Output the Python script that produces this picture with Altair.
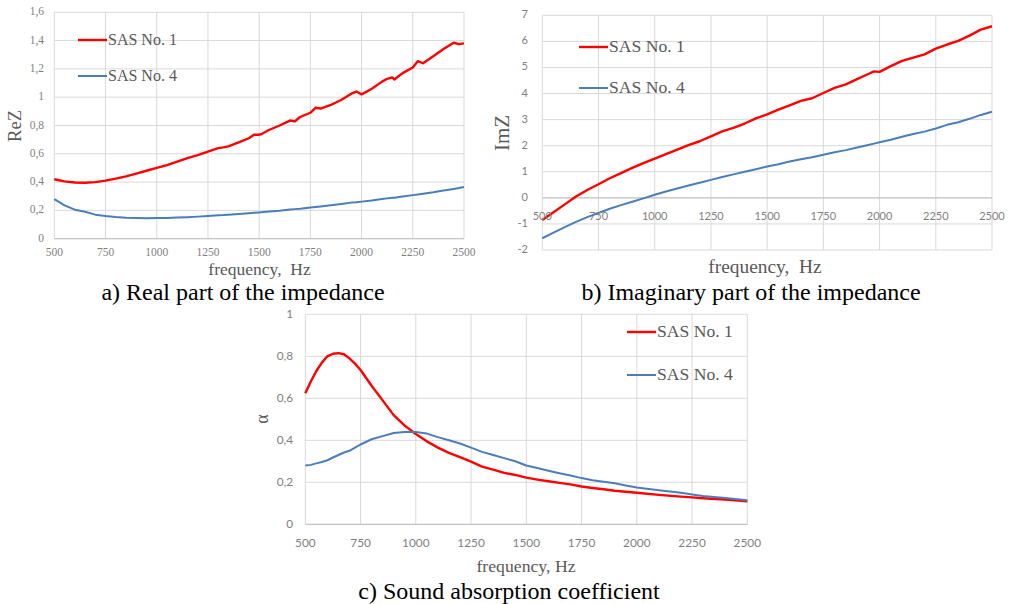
import altair as alt
import pandas as pd

# ---------------- data ----------------
freq_a = [500, 550, 600, 650, 700, 750, 800, 850, 900, 950, 1000, 1050, 1100, 1150, 1200,
          1250, 1300, 1325, 1350, 1400, 1450, 1475, 1500, 1510, 1550, 1600, 1650, 1675, 1700,
          1750, 1775, 1800, 1850, 1900, 1950, 1975, 2000, 2050, 2100, 2125, 2150, 2160, 2200,
          2250, 2275, 2300, 2350, 2400, 2450, 2475, 2500]
rez_1 = [0.42, 0.405, 0.397, 0.395, 0.40, 0.41, 0.425, 0.44, 0.46, 0.48, 0.50, 0.52, 0.545,
         0.57, 0.59, 0.615, 0.64, 0.645, 0.652, 0.68, 0.71, 0.735, 0.735, 0.738, 0.77, 0.80,
         0.835, 0.83, 0.86, 0.89, 0.925, 0.92, 0.945, 0.98, 1.025, 1.04, 1.02, 1.06, 1.11,
         1.13, 1.14, 1.125, 1.17, 1.21, 1.255, 1.24, 1.29, 1.34, 1.385, 1.375, 1.38]
rez_4 = [0.28, 0.235, 0.205, 0.19, 0.17, 0.16, 0.153, 0.148, 0.146, 0.145, 0.146, 0.147, 0.149,
         0.152, 0.156, 0.16, 0.165, 0.167, 0.17, 0.175, 0.18, 0.183, 0.186, 0.187, 0.192, 0.198,
         0.206, 0.209, 0.212, 0.22, 0.224, 0.228, 0.236, 0.245, 0.255, 0.258, 0.262, 0.27, 0.28,
         0.285, 0.29, 0.29, 0.298, 0.308, 0.313, 0.318, 0.328, 0.34, 0.352, 0.358, 0.365]

freq_b = [500, 550, 600, 650, 700, 750, 800, 850, 900, 950, 1000, 1050, 1100, 1150, 1200,
          1250, 1300, 1350, 1400, 1450, 1500, 1550, 1600, 1650, 1700, 1750, 1800, 1850, 1900,
          1950, 1975, 2000, 2050, 2100, 2150, 2200, 2250, 2300, 2350, 2400, 2450, 2500]
imz_1 = [-0.85, -0.55, -0.25, 0.05, 0.30, 0.52, 0.75, 0.95, 1.15, 1.33, 1.50, 1.68, 1.85, 2.02,
         2.17, 2.36, 2.55, 2.68, 2.85, 3.05, 3.20, 3.38, 3.55, 3.72, 3.82, 4.02, 4.22, 4.35,
         4.55, 4.75, 4.85, 4.83, 5.05, 5.25, 5.38, 5.50, 5.72, 5.88, 6.02, 6.22, 6.45, 6.58]
imz_4 = [-1.55, -1.33, -1.12, -0.92, -0.74, -0.58, -0.42, -0.28, -0.15, -0.02, 0.12, 0.24, 0.36,
         0.47, 0.58, 0.69, 0.80, 0.90, 1.00, 1.10, 1.20, 1.29, 1.39, 1.48, 1.56, 1.65, 1.75,
         1.83, 1.93, 2.03, 2.08, 2.13, 2.23, 2.34, 2.45, 2.54, 2.66, 2.80, 2.90, 3.03, 3.18, 3.30]

freq_c = [500, 525, 550, 575, 600, 625, 650, 675, 700, 725, 750, 800, 850, 900, 950, 1000,
          1050, 1100, 1150, 1200, 1250, 1300, 1350, 1400, 1450, 1500, 1550, 1600, 1650, 1700,
          1750, 1800, 1850, 1900, 1950, 2000, 2100, 2200, 2250, 2300, 2400, 2500]
alpha_1 = [0.624, 0.68, 0.73, 0.77, 0.80, 0.812, 0.815, 0.81, 0.79, 0.765, 0.735, 0.66, 0.59,
           0.52, 0.47, 0.43, 0.395, 0.365, 0.34, 0.32, 0.298, 0.275, 0.26, 0.245, 0.235, 0.222,
           0.213, 0.205, 0.197, 0.19, 0.18, 0.173, 0.167, 0.16, 0.155, 0.15, 0.14, 0.132, 0.128,
           0.124, 0.118, 0.11]
alpha_4 = [0.28, 0.283, 0.29, 0.297, 0.305, 0.318, 0.33, 0.342, 0.35, 0.365, 0.38, 0.405, 0.42,
           0.435, 0.44, 0.44, 0.432, 0.415, 0.40, 0.385, 0.365, 0.345, 0.33, 0.315, 0.30, 0.28,
           0.268, 0.255, 0.243, 0.232, 0.22, 0.21, 0.203, 0.195, 0.185, 0.175, 0.162, 0.15,
           0.142, 0.135, 0.125, 0.115]

series_names = ["SAS No. 1", "SAS No. 4"]
series_colors = ["#ff0000", "#4a7ebb"]
series_widths = [2.4, 2.0]

x_ticks = [500, 750, 1000, 1250, 1500, 1750, 2000, 2250, 2500]
ya_ticks = [0, 0.2, 0.4, 0.6, 0.8, 1.0, 1.2, 1.4, 1.6]
ya_labels = ["0", "0,2", "0,4", "0,6", "0,8", "1", "1,2", "1,4", "1,6"]
yb_ticks = [-2, -1, 0, 1, 2, 3, 4, 5, 6, 7]
yb_labels = ["-2", "-1", "0", "1", "2", "3", "4", "5", "6", "7"]
yc_ticks = [0, 0.2, 0.4, 0.6, 0.8, 1.0]
yc_labels = ["0", "0,2", "0,4", "0,6", "0,8", "1"]

GRID = "#d9d9d9"
TICK = "#7f7f7f"
TITLE = "#595959"
SERIF = "Liberation Serif"
SANS = "Lato"
WIDE = "\u00a0 "   # the double space of "frequency,  Hz"


def one(text):
    return pd.DataFrame({"t": [text]})


def panel(freq, s1, s4, xr, yr, ydom, yticks, ylabels, tick_font, tick_size, ylab_x,
          xlab_y, ytitle, ytitle_pos, ytitle_size, xtitle, xtitle_pos,
          xtitle_size, caption, caption_pos, leg_x, leg_y, leg_size):
    xs = alt.Scale(domain=[500, 2500], range=xr, nice=False, zero=False)
    ys = alt.Scale(domain=ydom, range=yr, nice=False, zero=False)
    lines = pd.DataFrame({
        "f": freq + freq,
        "v": s1 + s4,
        "s": [series_names[0]] * len(freq) + [series_names[1]] * len(freq),
    })
    gx = pd.DataFrame({"f": x_ticks})
    gy = pd.DataFrame({"v": yticks, "lab": ylabels})
    layers = []
    layers.append(alt.Chart(gx).mark_rule(color=GRID, strokeWidth=1).encode(
        x=alt.X("f:Q", scale=xs, axis=None), y=alt.value(yr[1]), y2=alt.value(yr[0])))
    layers.append(alt.Chart(gy).mark_rule(color=GRID, strokeWidth=1).encode(
        y=alt.Y("v:Q", scale=ys, axis=None), x=alt.value(xr[0]), x2=alt.value(xr[1])))
    # axis line at zero
    layers.append(alt.Chart(pd.DataFrame({"v": [0]})).mark_rule(color="#bfbfbf", strokeWidth=1).encode(
        y=alt.Y("v:Q", scale=ys, axis=None), x=alt.value(xr[0]), x2=alt.value(xr[1])))
    layers.append(alt.Chart(lines).mark_line(strokeJoin="round").encode(
        x=alt.X("f:Q", scale=xs, axis=None),
        y=alt.Y("v:Q", scale=ys, axis=None),
        color=alt.Color("s:N", scale=alt.Scale(domain=series_names, range=series_colors), legend=None),
        strokeWidth=alt.StrokeWidth("s:N", scale=alt.Scale(domain=series_names, range=series_widths), legend=None),
        detail="s:N",
        order=alt.Order("f:Q"),
    ))
    # tick labels
    layers.append(alt.Chart(gy).mark_text(font=tick_font, fontSize=tick_size, color=TICK,
                                          align="right", baseline="middle").encode(
        y=alt.Y("v:Q", scale=ys, axis=None), x=alt.value(ylab_x), text="lab:N"))
    layers.append(alt.Chart(gx).mark_text(font=tick_font, fontSize=tick_size, color=TICK,
                                          align="center", baseline="middle").encode(
        x=alt.X("f:Q", scale=xs, axis=None), y=alt.value(xlab_y), text="f:N"))
    # titles
    layers.append(alt.Chart(one(ytitle)).mark_text(font=SERIF, fontSize=ytitle_size, color=TITLE,
                                                   angle=270, align="center", baseline="middle").encode(
        x=alt.value(ytitle_pos[0]), y=alt.value(ytitle_pos[1]), text="t:N"))
    layers.append(alt.Chart(one(xtitle)).mark_text(font=SERIF, fontSize=xtitle_size, color=TITLE,
                                                   align="center", baseline="middle").encode(
        x=alt.value(xtitle_pos[0]), y=alt.value(xtitle_pos[1]), text="t:N"))
    layers.append(alt.Chart(one(caption)).mark_text(font=SERIF, fontSize=24, color="#000000",
                                                    align="center", baseline="middle").encode(
        x=alt.value(caption_pos[0]), y=alt.value(caption_pos[1]), text="t:N"))
    # legend
    for i in range(2):
        layers.append(alt.Chart(one(series_names[i])).mark_rule(
            color=series_colors[i], strokeWidth=series_widths[i]).encode(
            x=alt.value(leg_x), x2=alt.value(leg_x + 29), y=alt.value(leg_y[i])))
        layers.append(alt.Chart(one(series_names[i])).mark_text(
            font=SERIF, fontSize=leg_size, color=TITLE, align="left", baseline="middle").encode(
            x=alt.value(leg_x + 30), y=alt.value(leg_y[i]), text="t:N"))
    return alt.layer(*layers)


pa = panel(freq_a, rez_1, rez_4, [54.3, 464], [238.7, 12.3], [0, 1.6], ya_ticks, ya_labels,
           SERIF, 11.5, 44, 252.5, "ReZ", (15, 126), 18.6, "frequency," + WIDE + "Hz", (259.5, 270), 17.5,
           "a) Real part of the impedance", (243, 293), 78, [40, 76], 16)
pb = panel(freq_b, imz_1, imz_4, [542.3, 992], [250, 15.3], [-2, 7], yb_ticks, yb_labels,
           SANS, 11, 528, 217, "ImZ", (503, 133), 21, "frequency," + WIDE + "Hz", (765, 267), 19.4,
           "b) Imaginary part of the impedance", (751, 293), 579, [47, 88], 17.6)
pc = panel(freq_c, alpha_1, alpha_4, [305.3, 747.3], [524.3, 314.3], [0, 1], yc_ticks, yc_labels,
           SANS, 11.8, 293, 543, "α", (263, 419), 18, "frequency, Hz", (526, 567), 17.7,
           "c) Sound absorption coefficient", (509, 592), 627, [332, 375], 17.6)

chart = alt.layer(pa, pb, pc).resolve_scale(
    x="independent", y="independent", color="shared", strokeWidth="shared"
).properties(
    width=1034, height=604, autosize=alt.AutoSizeParams(type="none"), padding=0,
    background="white"
).configure_view(stroke=None)

chart.save("out.html", embed_options={"renderer": "svg", "actions": False})
